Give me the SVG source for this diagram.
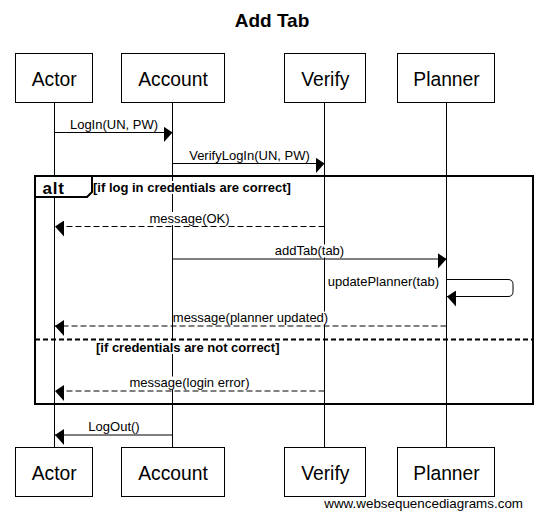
<svg xmlns="http://www.w3.org/2000/svg" width="543" height="522" viewBox="0 0 543 522">
<style>
text{font-family:"Liberation Sans",Arial,sans-serif;fill:#000}
.title{font-size:19px;font-weight:bold}
.box{fill:#fff;stroke:#000;stroke-width:1}
.btxt{font-size:19.3px}
.life{stroke:#000;stroke-width:1}
.msg{stroke:#000;stroke-width:1;fill:none}
.ret{stroke:#000;stroke-width:1;fill:none;stroke-dasharray:6,3}
.mtxt{font-size:13px}
.cond{font-size:13px;font-weight:bold}
.bg{fill:#fff}
.frame{fill:none;stroke:#000;stroke-width:2}
.sep{stroke:#000;stroke-width:2;stroke-dasharray:5,3}
.foot{font-size:13.4px}
</style>
<defs>
<marker id="arrR" markerUnits="userSpaceOnUse" viewBox="0 0 10 16" refX="9" refY="6" markerWidth="10" markerHeight="16" orient="0">
<path d="M0,0 L9,6 L0,16 Z" fill="#000"/>
</marker>
<marker id="arrL" markerUnits="userSpaceOnUse" viewBox="0 0 10 16" refX="1" refY="6" markerWidth="10" markerHeight="16" orient="0">
<path d="M10,0 L1,6 L10,16 Z" fill="#000"/>
</marker>
</defs>
<rect width="543" height="522" fill="#fff"/>
<text class="title" x="272" y="27" text-anchor="middle">Add Tab</text>

<g id="lifelines">
<line class="life" x1="54.5" y1="102.5" x2="54.5" y2="447.5"/>
<line class="life" x1="172.5" y1="102.5" x2="172.5" y2="447.5"/>
<line class="life" x1="324.5" y1="102.5" x2="324.5" y2="447.5"/>
<line class="life" x1="446.5" y1="102.5" x2="446.5" y2="447.5"/>
</g>

<g id="alt-frame">
<rect class="frame" x="35" y="176" width="498" height="228"/>
<path d="M35,176 H92 V192 L87,197 H35 Z" fill="#fff" stroke="#000" stroke-width="2"/>
<text x="42.5" y="193.5" font-size="17" font-weight="bold" letter-spacing="0.8">alt</text>
<rect class="bg" x="93" y="181" width="199" height="13"/>
<text class="cond" x="93" y="192">[if log in credentials are correct]</text>
<line class="sep" x1="35" y1="339.5" x2="533" y2="339.5"/>
<rect class="bg" x="96" y="341" width="183" height="13"/>
<text class="cond" x="96" y="351.5">[if credentials are not correct]</text>
</g>

<g id="connectors">
<line class="msg" x1="54.5" y1="132.5" x2="172.5" y2="132.5" marker-end="url(#arrR)"/>
<text class="mtxt" x="114" y="128.5" text-anchor="middle">LogIn(UN, PW)</text>

<line class="msg" x1="172.5" y1="163.5" x2="324.5" y2="163.5" marker-end="url(#arrR)"/>
<text class="mtxt" x="249.5" y="159.5" text-anchor="middle">VerifyLogIn(UN, PW)</text>

<line class="ret" x1="324.5" y1="226.5" x2="55" y2="226.5" marker-end="url(#arrL)"/>
<rect class="bg" x="149" y="212" width="81" height="13"/>
<text class="mtxt" x="189.5" y="222.5" text-anchor="middle">message(OK)</text>

<line class="msg" x1="172.5" y1="259" x2="446.5" y2="259" marker-end="url(#arrR)"/>
<rect class="bg" x="274" y="244.5" width="71" height="13"/>
<text class="mtxt" x="309.5" y="255" text-anchor="middle">addTab(tab)</text>

<path class="msg" d="M446.5,279.5 H508 Q513,279.5 513,284.5 V291.5 Q513,296.5 508,296.5 H447" marker-end="url(#arrL)"/>
<text class="mtxt" x="439" y="285.5" text-anchor="end">updatePlanner(tab)</text>

<line class="ret" x1="446.5" y1="326" x2="55" y2="326" marker-end="url(#arrL)"/>
<rect class="bg" x="173" y="311.5" width="155" height="13"/>
<text class="mtxt" x="250.5" y="322" text-anchor="middle">message(planner updated)</text>

<line class="ret" x1="324.5" y1="391" x2="55" y2="391" marker-end="url(#arrL)"/>
<rect class="bg" x="129.5" y="376.5" width="120" height="13"/>
<text class="mtxt" x="189.5" y="387" text-anchor="middle">message(login error)</text>

<line class="msg" x1="172.5" y1="435" x2="55" y2="435" marker-end="url(#arrL)"/>
<text class="mtxt" x="114" y="431" text-anchor="middle">LogOut()</text>
</g>

<g id="actor-top"><rect class="box" x="15.5" y="53.5" width="77" height="49"/><text class="btxt" x="54.2" y="86" text-anchor="middle">Actor</text></g>
<g id="account-top"><rect class="box" x="121.5" y="53.5" width="103" height="49"/><text class="btxt" x="173" y="86" text-anchor="middle">Account</text></g>
<g id="verify-top"><rect class="box" x="284.5" y="53.5" width="81" height="49"/><text class="btxt" x="325.3" y="86" text-anchor="middle">Verify</text></g>
<g id="planner-top"><rect class="box" x="397.5" y="53.5" width="97" height="49"/><text class="btxt" x="446.5" y="86" text-anchor="middle">Planner</text></g>

<g id="actor-bottom"><rect class="box" x="15.5" y="447.5" width="77" height="49"/><text class="btxt" x="54.2" y="480" text-anchor="middle">Actor</text></g>
<g id="account-bottom"><rect class="box" x="121.5" y="447.5" width="103" height="49"/><text class="btxt" x="173" y="480" text-anchor="middle">Account</text></g>
<g id="verify-bottom"><rect class="box" x="284.5" y="447.5" width="81" height="49"/><text class="btxt" x="325.3" y="480" text-anchor="middle">Verify</text></g>
<g id="planner-bottom"><rect class="box" x="397.5" y="447.5" width="97" height="49"/><text class="btxt" x="446.5" y="480" text-anchor="middle">Planner</text></g>

<text class="foot" x="523" y="508" text-anchor="end">www.websequencediagrams.com</text>
</svg>
